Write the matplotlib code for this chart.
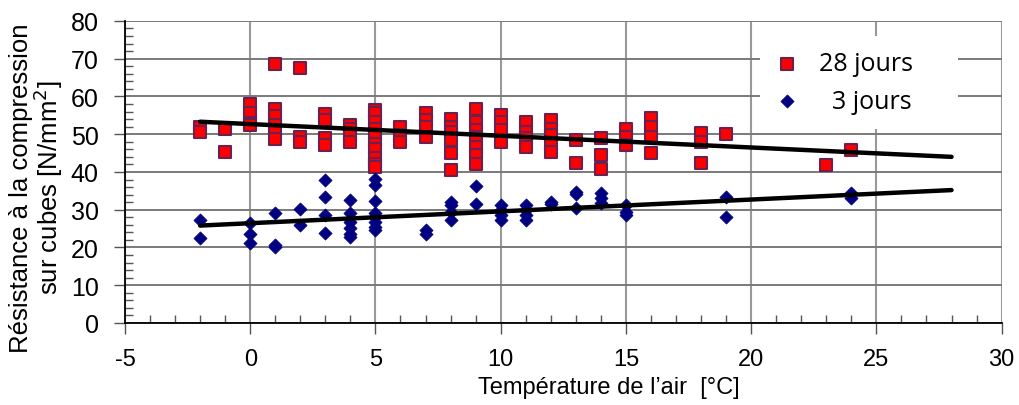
import matplotlib.pyplot as plt
import numpy as np
from matplotlib.ticker import MultipleLocator
from matplotlib.patches import Rectangle

plt.rcParams['axes.unicode_minus'] = False

# 28-day strength, grouped by air temperature
t28 = [-2, -2, -1, -1,
       0, 0, 0, 0,
       1, 1, 1, 1, 1, 1,
       2, 2, 2,
       3, 3, 3, 3,
       4, 4, 4, 4,
       5, 5, 5, 5, 5, 5, 5, 5, 5, 5,
       6, 6, 6,
       7, 7, 7, 7,
       8, 8, 8, 8, 8, 8,
       9, 9, 9, 9, 9, 9, 9,
       10, 10, 10, 10,
       11, 11, 11, 11,
       12, 12, 12, 12, 12,
       13, 13,
       14, 14, 14,
       15, 15, 15,
       16, 16, 16, 16,
       18, 18, 18,
       19, 23, 24]
r28 = [52.0, 50.5, 51.5, 45.2,
       58.0, 55.5, 53.0, 52.4,
       68.7, 56.8, 54.8, 52.4, 51.0, 48.6,
       67.6, 49.3, 48.0,
       55.3, 53.7, 48.9, 47.1,
       52.4, 51.5, 49.7, 48.0,
       56.3, 55.5, 53.3, 51.5, 49.7, 47.5, 46.2, 43.6, 42.2, 41.4,
       51.8, 49.7, 48.0,
       55.6, 53.7, 51.8, 49.3,
       54.1, 51.9, 50.6, 48.4, 44.9, 40.5,
       56.8, 53.3, 51.1, 49.3, 46.7, 44.4, 42.2,
       55.0, 53.3, 51.1, 48.0,
       53.3, 50.6, 48.9, 46.7,
       53.7, 51.5, 49.7, 47.5, 45.3,
       48.4, 42.4,
       48.9, 44.4, 40.7,
       51.5, 49.3, 47.1,
       54.4, 51.8, 49.3, 44.9,
       50.4, 48.0, 42.4,
       50.0, 41.8, 45.9]

# 3-day strength
t3 = [-2, -2,
      0, 0, 0,
      1, 1, 1,
      2, 2,
      3, 3, 3, 3,
      4, 4, 4, 4, 4, 4,
      5, 5, 5, 5, 5, 5, 5, 5,
      7, 7,
      8, 8, 8, 8,
      9, 9,
      10, 10, 10, 10,
      11, 11, 11, 11,
      12, 12,
      13, 13, 13,
      14, 14, 14,
      15, 15, 15,
      19, 19,
      24, 24]
r3 = [27.4, 22.4,
      26.6, 23.5, 21.3,
      29.2, 20.7, 20.1,
      30.1, 26.0,
      37.8, 33.3, 28.6, 23.9,
      32.7, 29.0, 26.8, 25.1, 23.7, 22.9,
      38.2, 36.5, 32.3, 29.0, 28.1, 26.8, 25.5, 24.6,
      24.6, 23.5,
      32.1, 31.2, 29.4, 27.2,
      36.4, 31.5,
      31.2, 29.9, 28.6, 27.2,
      31.2, 29.9, 28.6, 27.2,
      32.1, 31.5,
      34.8, 34.2, 30.4,
      34.4, 33.0, 31.7,
      31.2, 29.4, 28.6,
      33.4, 28.1,
      34.3, 33.0]

# trend line end points
trend_t = [-2, 28]
trend_28 = [53.3, 44.0]
trend_3 = [25.8, 35.2]

x_ticks = [-5, 0, 5, 10, 15, 20, 25, 30]
y_ticks = [0, 10, 20, 30, 40, 50, 60, 70, 80]

fig = plt.figure(figsize=(10.2, 4.06), dpi=100)
ax = fig.add_axes([0.1225, 0.202, 0.8595, 0.744])

ax.scatter(t28, r28, marker='s', s=85, color='#ff0000', edgecolor='#6b2050',
           linewidth=1.5, zorder=3, label='28 jours')
ax.scatter(t3, r3, marker='D', s=45, color='#000080', edgecolor='#000080',
           linewidth=0.5, zorder=3, label='  3 jours')
ax.plot(trend_t, trend_28, color='black', lw=3.2, zorder=4, solid_capstyle='round')
ax.plot(trend_t, trend_3, color='black', lw=3.2, zorder=4, solid_capstyle='round')

ax.set_xlim(-5, 30)
ax.set_ylim(0, 80)
ax.set_xticks(x_ticks)
ax.set_yticks(y_ticks)
ax.xaxis.set_minor_locator(MultipleLocator(1))
ax.yaxis.set_minor_locator(MultipleLocator(2))
ax.xaxis.grid(True, which='major', color='#999999', lw=1.5, zorder=0)
ax.yaxis.grid(True, which='major', color='#7a7a7a', lw=1.4, zorder=0)
ax.set_axisbelow(True)

for s in ['top', 'right']:
    ax.spines[s].set_visible(False)
for s in ['left', 'bottom']:
    ax.spines[s].set_color('black')
    ax.spines[s].set_linewidth(1.3)

ax.tick_params(which='major', direction='out', length=8, width=1, color='#555555')
ax.tick_params(which='minor', direction='in', length=6, width=1, color='#555555')
ax.tick_params(axis='x', which='major', pad=10)
ax.tick_params(axis='y', which='major', pad=11)

for lbl in ax.get_yticklabels():
    lbl.set_family(['Liberation Sans', 'DejaVu Sans'])
    lbl.set_fontsize(18)
for lbl in ax.get_xticklabels():
    lbl.set_family(['Liberation Sans Narrow', 'Liberation Sans', 'DejaVu Sans'])
    lbl.set_fontsize(17)

ax.set_ylabel('Résistance à la compression\nsur cubes [N/mm$^2$]', fontsize=18.5,
              family=['Liberation Sans', 'DejaVu Sans'], linespacing=0.95)
ax.yaxis.set_label_coords(-0.068, 0.45)
ax.set_xlabel('Température de l\u2019air  [°C]', fontsize=17,
              family=['Liberation Sans Narrow', 'Liberation Sans', 'DejaVu Sans'])
ax.xaxis.set_label_coords(0.552, -0.175)

# white box behind the legend, hiding the grid
ax.add_patch(Rectangle((0.724, 0.642), 0.226, 0.308, transform=ax.transAxes,
                       facecolor='white', edgecolor='none', zorder=2))
leg = ax.legend(loc='center left', bbox_to_anchor=(0.741, 0.796), frameon=False,
                prop={'family': ['Open Sans', 'DejaVu Sans'], 'size': 18},
                handletextpad=0.78, borderpad=0, labelspacing=0.5, handlelength=1.0,
                borderaxespad=0)
leg.set_zorder(5)

fig.savefig('out.png', dpi=100)
